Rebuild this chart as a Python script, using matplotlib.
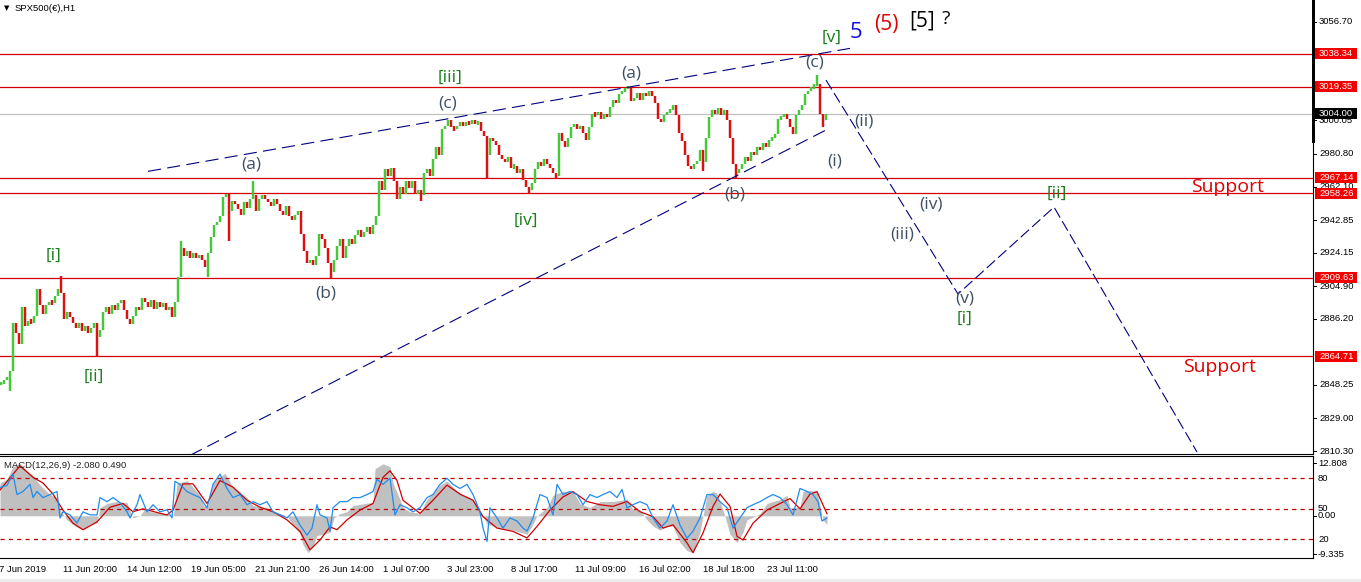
import numpy as np
import matplotlib
matplotlib.use("Agg")
import matplotlib.pyplot as plt
from matplotlib.patches import Rectangle

plt.rcParams['lines.scale_dashes'] = False
plt.rcParams['font.family'] = ['DejaVu Sans']

W, H, DPI = 1361, 582, 100

# ---------------- price data (H1 bars, read every 3rd bar) ----------------
closes = [
    2849, 2851, 2853, 2856, 2884, 2878, 2872, 2893, 2882, 2885,
    2884, 2888, 2903, 2894, 2889, 2894, 2896, 2895, 2899, 2903,
    2901, 2886, 2890, 2887, 2884, 2881, 2884, 2879, 2882, 2878,
    2881, 2884, 2876, 2880, 2890, 2893, 2889, 2894, 2891, 2895,
    2897, 2891, 2886, 2883, 2888, 2893, 2891, 2898, 2896, 2893,
    2897, 2892, 2896, 2893, 2895, 2891, 2893, 2887, 2896, 2910,
    2927, 2922, 2925, 2921, 2924, 2921, 2923, 2920, 2916, 2924,
    2933, 2940, 2942, 2945, 2956, 2958, 2948, 2954, 2952, 2949,
    2946, 2953, 2950, 2955, 2957, 2948, 2955, 2957, 2955, 2953,
    2951, 2955, 2952, 2948, 2946, 2951, 2945, 2943, 2946, 2948,
    2935, 2925, 2918, 2920, 2917, 2922, 2935, 2932, 2927, 2918,
    2913, 2920, 2928, 2932, 2921, 2928, 2932, 2929, 2934, 2937,
    2933, 2936, 2939, 2935, 2940, 2945, 2965, 2960, 2972, 2968,
    2973, 2965, 2955, 2962, 2958, 2965, 2961, 2965, 2958, 2960,
    2957, 2970, 2972, 2968, 2978, 2985, 2980, 2995, 2997, 3000,
    2996, 2995, 2997, 2999, 2997, 2999, 2998, 3000, 2998, 2999,
    2994, 2991, 2980, 2990, 2988, 2986, 2980, 2978, 2976, 2979,
    2973, 2974, 2970, 2972, 2966, 2962, 2960, 2964, 2972, 2976,
    2974, 2978, 2975, 2973, 2970, 2968, 2993, 2988, 2985, 2990,
    2996, 2998, 2995, 2997, 2993, 2989, 2996, 3004, 3003, 3005,
    3001, 3004, 3002, 3008, 3012, 3010, 3015, 3017, 3018, 3019,
    3011, 3013, 3016, 3012, 3016, 3014, 3017, 3014, 3010, 3001,
    2999, 3003, 3005, 3006, 3009, 3003, 2993, 2988, 2980, 2974,
    2972, 2975, 2977, 2983, 2976, 2990, 3002, 3006, 3004, 3007,
    3003, 3006, 3000, 2990, 2975, 2970, 2972, 2975, 2979, 2977,
    2982, 2980, 2985, 2983, 2987, 2985, 2989, 2990, 2992, 3001,
    3002, 3004, 3001, 2996, 2992, 3003, 3006, 3009, 3015, 3017,
    3019, 3020, 3021, 3004, 3000, 3004,
]
extra_high = {20: 2910.5, 60: 2931, 84: 2965, 209: 3020, 272: 3026}
extra_low = {3: 2845, 32: 2865, 69: 2910, 76: 2931, 110: 2909.6, 140: 2954,
             162: 2967, 176: 2958.5, 185: 2967, 234: 2971, 245: 2967.2, 274: 2996}

hline_levels = [3038.34, 3019.35, 2967.14, 2958.26, 2909.63, 2864.71]
bid_price = 3004.00
price_ticks = [3056.70, 3000.05, 2980.80, 2962.10, 2942.85,
               2924.15, 2904.90, 2886.20, 2848.25, 2829.00, 2810.30]

date_labels = ["7 Jun 2019", "11 Jun 20:00", "14 Jun 12:00", "19 Jun 05:00",
               "21 Jun 21:00", "26 Jun 14:00", "1 Jul 07:00", "3 Jul 23:00",
               "8 Jul 17:00", "11 Jul 09:00", "16 Jul 02:00", "18 Jul 18:00",
               "23 Jul 11:00"]
date_hours = [-3, 61, 125, 189, 253, 317, 381, 445, 509, 573, 637, 701, 765]

# ---------------- indicator data ----------------
macd_hours = [0, 7, 13, 20, 27, 33, 40, 50, 57, 60, 67, 75, 83, 90, 97, 100, 107, 117,
              127, 133, 140, 145, 150, 160, 170, 173, 177, 187, 193, 200, 204, 208,
              213, 220, 225, 233, 247, 253, 260, 267, 277, 287, 293, 300, 303, 308,
              313, 317, 323, 330, 334, 340, 347, 353, 365, 373, 375, 383, 390, 393,
              400, 403, 410, 420, 427, 440, 447, 453, 460, 473, 480, 487, 500, 513,
              527, 533, 537, 547, 553, 563, 573, 580, 590, 600, 613, 627, 633, 640,
              647, 653, 660, 667, 673, 680, 687, 693, 700, 707, 713, 717, 723, 730,
              737, 743, 747, 760, 767, 780, 787, 790, 800, 803, 810, 817, 823, 827]
macd_vals = [8, 9, 12, 12.8, 11, 9.8, 7.5, 5.2, 4.5, 1.5, -1, -2.5, -3.4, -2, -1.7, 2, 3,
             3.5, 3.2, -0.5, 0, 1.8, 1, 0.8, 0.3, -0.2, 7.9, 8.6, 7, 5, 2.3, 2.6,
             8, 9.5, 10.4, 7, 4.5, 2.5, 2.2, 2, 0.8, 0, -2.3, -4.4, -7, -9,
             -7.5, -4.8, -4.5, -4, -0.5, 0.5, 1, 2.5, 3, 3.3, 11.5, 12.7, 12, 8,
             4, 2, 1, 0.6, 4, 7.5, 8.5, 7, 5.5, 4, 1.5, -2, -3, -3.5,
             -4.5, -2, 0, 2, 5, 6, 6, 3, 2, 3.5, 3.5, 4, 1.5, 1.5,
             -1, -2.5, -3.5, -2.5, -2.5, -6.5, -8.5, -9, -4, 5, 6, 5.5, 1.5, -4.5,
             -6.5, -4, -1, 0.5, 3, 4, 5, 2, 2, 6, 6.2, 6, -1, -2.1]

sig_hours = [0, 20, 33, 43, 53, 63, 73, 83, 97, 110, 123, 133, 143, 167, 173, 183, 193,
             207, 220, 233, 247, 260, 273, 287, 300, 310, 320, 330, 337, 347, 360,
             373, 383, 390, 397, 403, 420, 433, 447, 460, 473, 483, 497, 513, 527,
             537, 550, 563, 573, 587, 600, 613, 627, 640, 653, 663, 673, 687, 693,
             703, 713, 720, 730, 737, 743, 753, 767, 780, 790, 800, 810, 817, 827]
sig_vals = [6.3, 12.2, 9.4, 8, 5.3, 1.4, -1.8, -3.4, -1.5, 2.1, 3.0, 1.0, 1.7, 0.2, 1.4,
            7.8, 7.8, 3, 8.6, 7, 3.8, 2.1, 1, -1, -3.8, -8.3, -5.9, -2.7, -3.4, -1,
            1.4, 3, 9.4, 11, 8.6, 3.8, 0.6, 3.8, 7.5, 5.3, 3.8, -0.2, -3, -3.8, -5.4,
            -2.6, 1.4, 4.6, 5.9, 3.5, 2.7, 2.3, 3.5, 1.0, -0.2, -3, -2.2, -6.6, -9,
            -4.2, 2.3, 5.3, 2.3, -5, -5.9, -1.8, 1.4, 3, 4.2, 1.7, 5.3, 5.9, 0.49]

osc_hours = [0, 7, 13, 17, 23, 30, 33, 37, 43, 50, 57, 60, 63, 70, 77, 83, 90, 97, 100,
             107, 113, 120, 127, 130, 137, 140, 147, 153, 160, 167, 172, 175, 180,
             187, 193, 200, 207, 213, 220, 227, 233, 240, 247, 253, 260, 267, 273,
             280, 287, 293, 300, 307, 312, 317, 320, 327, 330, 333, 340, 347, 353,
             360, 367, 373, 377, 383, 390, 395, 400, 407, 413, 420, 427, 433, 440,
             447, 453, 460, 467, 473, 480, 483, 487, 490, 497, 503, 510, 517, 523,
             527, 533, 540, 547, 553, 557, 563, 570, 577, 583, 590, 597, 603, 610,
             617, 622, 627, 633, 640, 647, 653, 660, 667, 673, 680, 687, 693, 700,
             707, 713, 720, 727, 733, 740, 747, 753, 760, 767, 773, 780, 787, 793,
             800, 807, 813, 818, 822, 827]
osc_vals = [71, 73, 84, 64, 67, 74, 61, 67, 61, 64, 67, 41, 47, 44, 36, 47, 44, 44, 61,
            57, 61, 56, 47, 41, 54, 64, 47, 54, 47, 49, 41, 77, 74,
            67, 64, 61, 51, 74, 84, 70, 61, 64, 54, 57, 54, 57, 47,
            44, 41, 47, 34, 24, 31, 54, 44, 41, 28, 51, 57, 57, 61,
            61, 64, 67, 79, 74, 80, 44, 54, 51, 47, 51, 61, 64, 74,
            80, 74, 70, 74, 64, 47, 31, 18, 51, 41, 31, 41, 38, 31,
            28, 41, 64, 61, 44, 74, 64, 67, 64, 54, 64, 61, 64, 67,
            61, 69, 51, 54, 57, 54, 41, 31, 38, 54, 34, 21, 28, 41,
            64, 64, 57, 51, 31, 41, 51, 54, 57, 61, 64, 61, 54, 44,
            70, 67, 64, 57, 38, 41]
osc_levels = [80, 50, 20]

# ---------------- drawn objects (trendlines, projection) ----------------
upper_tl_hours = [148, 850]
upper_tl_price = [2970.8, 3041.4]
lower_tl_hours = [190, 830]
lower_tl_price = [2807.8, 2995.7]
proj_hours = [826, 958, 1054, 1197]
proj_price = [3023.2, 2900.4, 2950.3, 2809.7]

SLATE = '#3E5064'
GREEN = '#1B7D1B'
wave_labels = [
    ("[i]", 54, 2922.2, GREEN, 12.5), ("[ii]", 94, 2852.8, GREEN, 12.5),
    ("(a)", 251, 2974.5, SLATE, 12.5), ("(b)", 326, 2900.5, SLATE, 12.5),
    ("(c)", 448, 3009.5, SLATE, 12.5), ("[iii]", 450, 3024.5, GREEN, 12.5),
    ("[iv]", 526, 2942.3, GREEN, 12.5), ("(a)", 631, 3027.2, SLATE, 12.5),
    ("(b)", 735, 2957.3, SLATE, 12.5), ("(c)", 815, 3033.0, SLATE, 12.5),
    ("[v]", 832, 3047.3, GREEN, 12.5), ("(ii)", 864, 2999.7, SLATE, 12.5),
    ("(i)", 835, 2976.2, SLATE, 12.5), ("(iv)", 931, 2951.5, SLATE, 12.5),
    ("(iii)", 902, 2934.3, SLATE, 12.5), ("(v)", 965, 2898.1, SLATE, 12.5),
    ("[i]", 965, 2886.0, GREEN, 12.5), ("[ii]", 1057, 2957.8, GREEN, 12.5),
    ("5", 856, 3050.7, '#1010E0', 16), ("(5)", 886, 3055.0, '#E00000', 15),
    ("[5]", 922, 3057.3, '#000000', 15), ("?", 946, 3058.0, '#000000', 14),
    ("Support", 1228, 2961.7, '#E00000', 14), ("Support", 1220, 2858.5, '#E00000', 14),
]

# ---------------- layout ----------------
P_TOP, P_BOT = 3069.15, 2808.87
M_TOP, M_BOT = 14.6, -10.3
O_TOP, O_BOT = 101.9, 1.6
PLOT_W = 1313

def fy(py):
    return 1 - py / H

fig = plt.figure(figsize=(W / DPI, H / DPI), dpi=DPI)
fig.patch.set_facecolor('white')

ax = fig.add_axes([0, fy(453.5), PLOT_W / W, 453.5 / H], label='main')
axm = fig.add_axes([0, fy(558), PLOT_W / W, 102 / H], label='macd')
axo = fig.add_axes([0, fy(558), PLOT_W / W, 102 / H], label='osc')
axo.patch.set_alpha(0)
axs = fig.add_axes([PLOT_W / W, fy(453.5), 48 / W, 453.5 / H], label='pscale')
axms = fig.add_axes([PLOT_W / W, fy(558), 48 / W, 102 / H], label='mscale')
axos = fig.add_axes([PLOT_W / W, fy(558), 48 / W, 102 / H], label='oscale')

for a in (ax, axm, axo):
    a.set_xlim(0, PLOT_W)
    a.set_xticks([])
    a.set_yticks([])
ax.set_ylim(P_BOT, P_TOP)
axm.set_ylim(M_BOT, M_TOP)
axo.set_ylim(O_BOT, O_TOP)
for a in (axs, axms, axos):
    a.set_xlim(0, 48)
    a.axis('off')
axs.set_ylim(P_BOT, P_TOP)
axms.set_ylim(M_BOT, M_TOP)
axos.set_ylim(O_BOT, O_TOP)

for a in (ax, axm, axo):
    for s in a.spines.values():
        s.set_visible(False)
ax.spines['bottom'].set_visible(True)
ax.spines['right'].set_visible(True)
axm.spines['top'].set_visible(True)
axm.spines['bottom'].set_visible(True)
axm.spines['right'].set_visible(True)
for a in (ax, axm):
    for s in a.spines.values():
        s.set_linewidth(0.8)
        s.set_color('black')

# ---------------- main panel ----------------
for lv in hline_levels:
    ax.axhline(lv, color='#D40000', lw=0.9, zorder=1)
ax.axhline(bid_price, color='#C0C0C0', lw=0.9, zorder=1)

n = len(closes)
bar_hours = np.arange(n) * 3 + 1
opens = [closes[0]] + closes[:-1]
highs, lows, cols = [], [], []
for i, (o, c) in enumerate(zip(opens, closes)):
    hi = max(o, c)
    lo = min(o, c)
    if i in extra_high:
        hi = max(hi, extra_high[i])
    if i in extra_low:
        lo = min(lo, extra_low[i])
    if hi - lo < 1.5:
        hi += 0.8
        lo -= 0.8
    highs.append(hi)
    lows.append(lo)
    cols.append('#45C83A' if c >= o else '#E01010')
ax.vlines(bar_hours, lows, highs, colors=cols, linewidth=1.75, zorder=3)

dash_tl = (0, (9.5, 4.5))
ax.plot(upper_tl_hours, upper_tl_price, color='#000080', lw=0.8, linestyle=dash_tl, zorder=4)
ax.plot(lower_tl_hours, lower_tl_price, color='#000080', lw=0.8, linestyle=dash_tl, zorder=4)
ax.plot(proj_hours, proj_price, color='#000080', lw=0.8, linestyle=(0, (8, 3)), zorder=4)

for txt, hx, py, col, fs in wave_labels:
    ax.text(hx, py, txt, color=col, fontsize=fs, ha='center', va='center',
            family=['Open Sans', 'DejaVu Sans'], zorder=6)

fig.text(7 / W, fy(8), "\u25BC", fontsize=5, ha='center', va='center', color='black')
fig.text(15 / W, fy(8.5), "SPX500(\u20ac),H1", fontsize=6.8, ha='left', va='center',
         color='black', family=['Liberation Sans', 'DejaVu Sans'])

# price scale
SF = ['Liberation Sans', 'DejaVu Sans']
FS = 6.8
for t in price_ticks:
    axs.plot([0, 3], [t, t], color='black', lw=0.7, clip_on=False)
    axs.text(6, t, f"{t:.2f}", fontsize=FS, ha='left', va='center', color='black', family=SF)
box_h = 11 / 1.7423
for lv in hline_levels:
    axs.add_patch(Rectangle((2, lv - box_h / 2), 42, box_h, facecolor='#F20000',
                            edgecolor='none', zorder=5, clip_on=False))
    axs.text(6, lv, f"{lv:.2f}", fontsize=FS, ha='left', va='center', color='white',
             family=SF, zorder=6)
axs.add_patch(Rectangle((2, bid_price - box_h / 2), 42, box_h, facecolor='black',
                        edgecolor='none', zorder=5, clip_on=False))
axs.text(6, bid_price, f"{bid_price:.2f}", fontsize=FS, ha='left', va='center',
         color='white', family=SF, zorder=6)
axs.add_patch(Rectangle((-1.5, 2987.1), 3.5, P_TOP - 2987.1, facecolor='black',
                        edgecolor='none', clip_on=False))

# ---------------- MACD panel ----------------
axm.fill_between(macd_hours, 0, macd_vals, color='#C0C0C0', lw=0, zorder=1)
for lv in osc_levels:
    axo.axhline(lv, color='#C00000', lw=0.9, linestyle=(0, (3, 3)), zorder=2)
axm.plot(sig_hours, sig_vals, color='#D00000', lw=0.9, zorder=3)
axo.plot(osc_hours, osc_vals, color='#1E8CF0', lw=0.9, zorder=4)

fig.text(4 / W, fy(465), "MACD(12,26,9) -2.080 0.490", fontsize=6.8, ha='left',
         va='center', color='#202020', family=SF)

macd_scale_ticks = [12.808, 0.0, -9.335]
for t in macd_scale_ticks:
    axms.plot([0, 3], [t, t], color='black', lw=0.7, clip_on=False)
    axms.text(5, t, f"{t:.3f}" if t != 0 else "0.00", fontsize=FS, ha='left',
              va='center', color='black', family=SF)
for lv in osc_levels:
    axos.text(5, lv, f"{lv}", fontsize=FS, ha='left', va='center', color='black', family=SF)

# ---------------- time axis ----------------
for lab, hx in zip(date_labels, date_hours):
    fig.text((hx + 2) / W, fy(569), lab, fontsize=6.8, ha='left', va='center',
             color='black', family=SF)

fig.patches.append(Rectangle((0, 0), 1, 3 / H, transform=fig.transFigure,
                             facecolor='#ECECEC', edgecolor='none'))

fig.savefig('out.png', dpi=DPI, facecolor='white')
